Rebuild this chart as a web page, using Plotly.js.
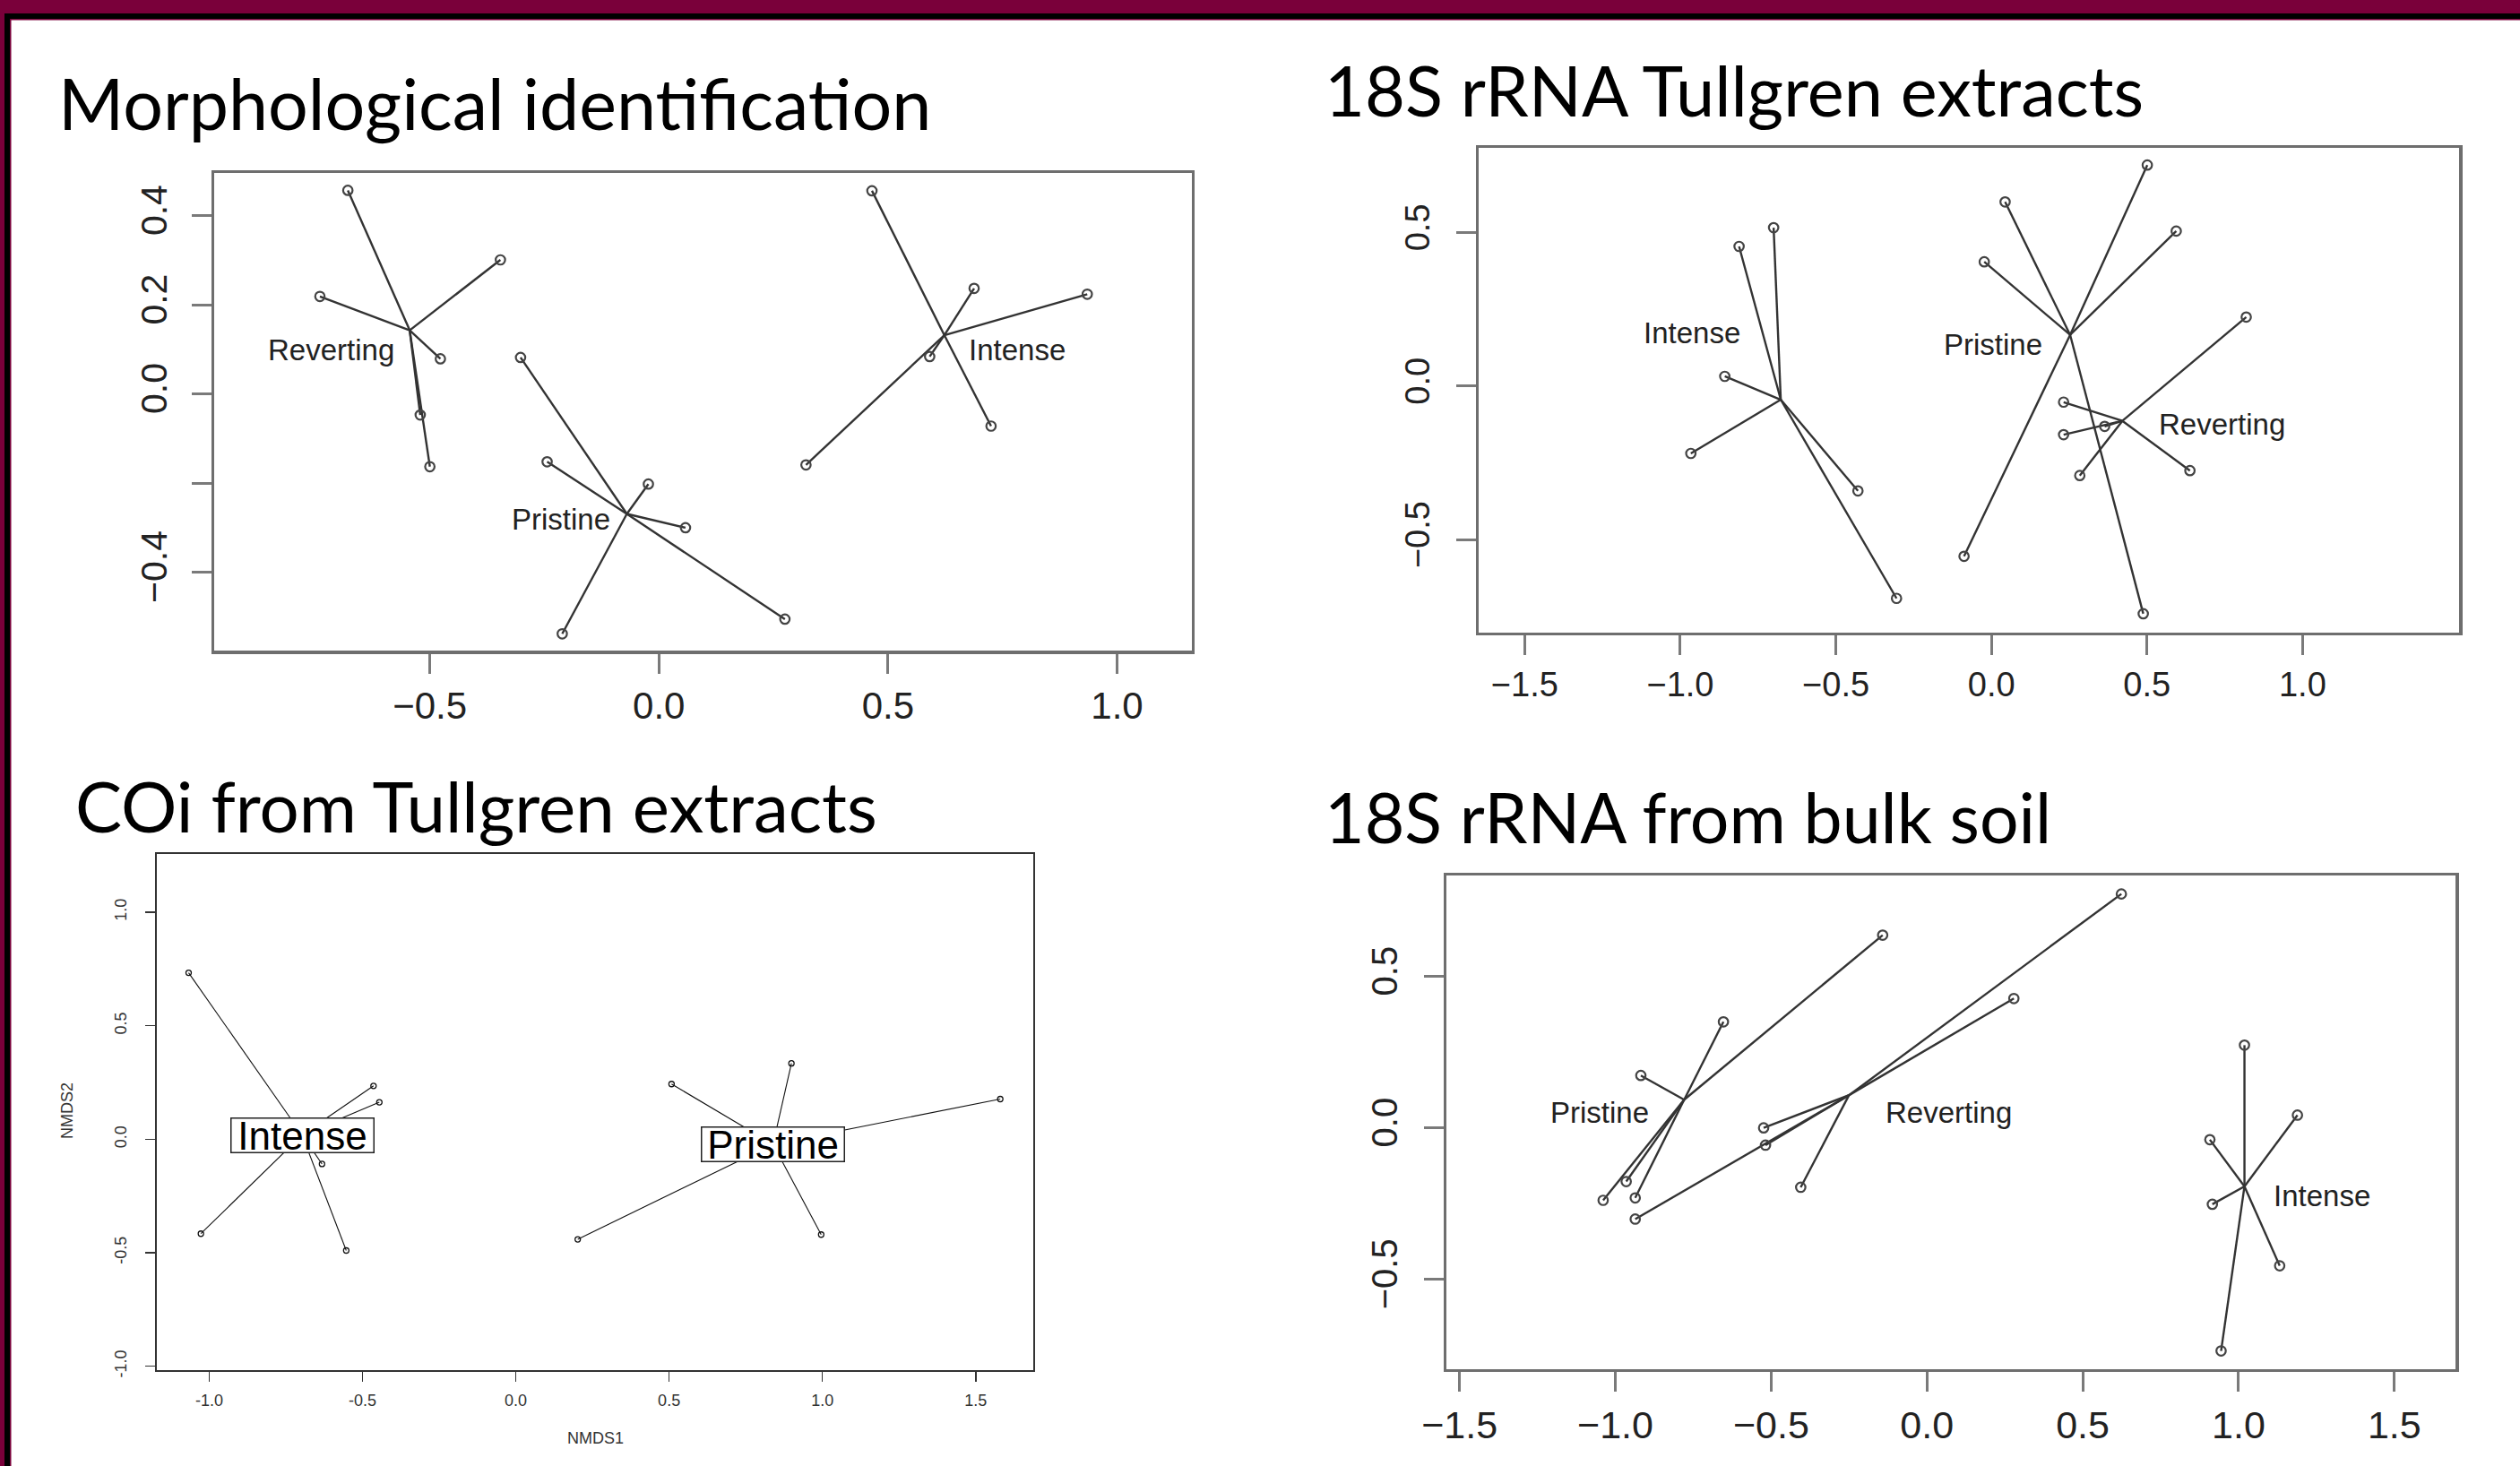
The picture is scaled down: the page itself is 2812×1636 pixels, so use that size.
<!DOCTYPE html>
<html>
<head>
<meta charset="utf-8">
<script src="https://cdn.plot.ly/plotly-3.0.1.min.js"></script>
<style>html,body{margin:0;padding:0;background:#fff;}#chart{width:2812px;height:1636px;}</style>
</head>
<body>
<div id="chart"></div>
<script>
// ---------- DATA ----------
// Panel 1: Morphological identification
const morphRevX = [-0.679, -0.346, -0.740, -0.477, -0.521, -0.500];
const morphRevY = [0.457, 0.301, 0.219, 0.079, -0.047, -0.163];
const morphIntX = [0.465, 0.688, 0.935, 0.591, 0.725, 0.321];
const morphIntY = [0.456, 0.237, 0.224, 0.084, -0.072, -0.159];
const morphPriX = [-0.302, -0.244, -0.023, 0.058, 0.275, -0.211];
const morphPriY = [0.082, -0.152, -0.202, -0.300, -0.505, -0.538];
const morphCentX = [-0.544, 0.623, -0.070];   // Reverting, Intense, Pristine
const morphCentY = [0.143, 0.132, -0.269];

// Panel 2: 18S rRNA Tullgren extracts
const tullIntX = [-0.700, -0.811, -0.857, -0.966, -0.429, -0.305];
const tullIntY = [0.516, 0.455, 0.032, -0.219, -0.341, -0.691];
const tullPriX = [0.501, 0.044, 0.594, -0.023, -0.088, 0.488];
const tullPriY = [0.720, 0.600, 0.505, 0.405, -0.554, -0.741];
const tullRevX = [0.819, 0.232, 0.232, 0.364, 0.284, 0.638];
const tullRevY = [0.225, -0.052, -0.158, -0.131, -0.291, -0.275];
const tullCentX = [-0.677, 0.253, 0.421];     // Intense, Pristine, Reverting
const tullCentY = [-0.044, 0.167, -0.113];

// Panel 3: COi from Tullgren extracts
const coiIntX = [-1.067, -0.464, -0.445, -0.632, -1.027, -0.553];
const coiIntY = [0.733, 0.235, 0.163, -0.109, -0.416, -0.490];
const coiPriX = [0.508, 0.899, 1.580, 0.202, 0.996];
const coiPriY = [0.243, 0.334, 0.177, -0.441, -0.420];
const coiCentX = [-0.697, 0.839];             // Intense, Pristine
const coiCentY = [0.019, -0.022];

// Panel 4: 18S rRNA from bulk soil
const bulkPriX = [-0.142, -0.653, -0.918, -0.965, -0.936, -1.039];
const bulkPriY = [0.636, 0.350, 0.173, -0.177, -0.231, -0.239];
const bulkRevX = [0.624, 0.279, -0.524, -0.518, -0.405, -0.936];
const bulkRevY = [0.772, 0.427, 0.000, -0.057, -0.196, -0.301];
const bulkIntX = [1.019, 1.189, 0.908, 0.916, 1.132, 0.944];
const bulkIntY = [0.273, 0.042, -0.039, -0.252, -0.455, -0.736];
const bulkCentX = [-0.779, -0.250, 1.019];    // Pristine, Reverting, Intense
const bulkCentY = [0.093, 0.108, -0.193];

// Tick values / labels
const p1XTicks = [-0.5, 0, 0.5, 1.0];
const p1XText  = ["\u22120.5", "0.0", "0.5", "1.0"];
const p1YTicks = [-0.4, -0.2, 0, 0.2, 0.4];
const p1YText  = ["\u22120.4", "", "0.0", "0.2", "0.4"];
const p2XTicks = [-1.5, -1.0, -0.5, 0, 0.5, 1.0];
const p2XText  = ["\u22121.5", "\u22121.0", "\u22120.5", "0.0", "0.5", "1.0"];
const p2YTicks = [-0.5, 0, 0.5];
const p2YText  = ["\u22120.5", "0.0", "0.5"];
const p3XTicks = [-1.0, -0.5, 0, 0.5, 1.0, 1.5];
const p3XText  = ["-1.0", "-0.5", "0.0", "0.5", "1.0", "1.5"];
const p3YTicks = [-1.0, -0.5, 0, 0.5, 1.0];
const p3YText  = ["-1.0", "-0.5", "0.0", "0.5", "1.0"];
const p4XTicks = [-1.5, -1.0, -0.5, 0, 0.5, 1.0, 1.5];
const p4XText  = ["\u22121.5", "\u22121.0", "\u22120.5", "0.0", "0.5", "1.0", "1.5"];
const p4YTicks = [-0.5, 0, 0.5];
const p4YText  = ["\u22120.5", "0.0", "0.5"];

const titles = ["Morphological identification", "18S rRNA Tullgren extracts",
                "COi from Tullgren extracts", "18S rRNA from bulk soil"];

// ---------- BUILD ----------
const W = 2812, H = 1636;
const traces = [];
function spider(cx, cy, xs, ys, ax, style) {
  const lx = [], ly = [];
  for (let i = 0; i < xs.length; i++) { lx.push(cx, xs[i], null); ly.push(cy, ys[i], null); }
  traces.push({x: lx, y: ly, xaxis: 'x' + ax, yaxis: 'y' + ax, mode: 'lines', type: 'scatter',
    line: {color: style.lc, width: style.lw}, hoverinfo: 'skip'});
  traces.push({x: xs, y: ys, xaxis: 'x' + ax, yaxis: 'y' + ax, mode: 'markers', type: 'scatter',
    marker: {symbol: 'circle-open', size: style.ms, color: style.mc, line: {width: style.mw, color: style.mc}}, hoverinfo: 'skip'});
}
const sBig = {lc: '#333', lw: 2.4, ms: 10.5, mc: '#444', mw: 2.2};
const sSmall = {lc: '#111', lw: 1.1, ms: 6, mc: '#111', mw: 1.3};

spider(morphCentX[0], morphCentY[0], morphRevX, morphRevY, '', sBig);
spider(morphCentX[1], morphCentY[1], morphIntX, morphIntY, '', sBig);
spider(morphCentX[2], morphCentY[2], morphPriX, morphPriY, '', sBig);
spider(tullCentX[0], tullCentY[0], tullIntX, tullIntY, '2', sBig);
spider(tullCentX[1], tullCentY[1], tullPriX, tullPriY, '2', sBig);
spider(tullCentX[2], tullCentY[2], tullRevX, tullRevY, '2', sBig);
spider(coiCentX[0], coiCentY[0], coiIntX, coiIntY, '3', sSmall);
spider(coiCentX[1], coiCentY[1], coiPriX, coiPriY, '3', sSmall);
spider(bulkCentX[0], bulkCentY[0], bulkPriX, bulkPriY, '4', sBig);
spider(bulkCentX[1], bulkCentY[1], bulkRevX, bulkRevY, '4', sBig);
spider(bulkCentX[2], bulkCentY[2], bulkIntX, bulkIntY, '4', sBig);

const tickFont = 'Liberation Sans, Arial, sans-serif';
function axis(domain, range, tv, tt, anchor, o) {
  return {
    domain: domain, range: range, anchor: anchor, tickvals: tv, ticktext: tt,
    showgrid: false, zeroline: false, showline: true, mirror: true,
    linecolor: o.line, linewidth: o.lw, ticks: 'outside', ticklen: o.tl, tickwidth: o.tw,
    tickcolor: o.tc, tickangle: o.angle, ticklabelstandoff: o.standoff,
    tickfont: {family: tickFont, size: o.fs, color: o.fc}, fixedrange: true
  };
}
const oBigX = {line: '#6e6e6e', lw: 3.5, tl: 22, tw: 3, tc: '#7a7a7a', angle: 0, standoff: 0, fs: 42, fc: '#222'};
const oBigY = {line: '#6e6e6e', lw: 3.5, tl: 22, tw: 3, tc: '#7a7a7a', angle: -90, standoff: 12, fs: 41, fc: '#222'};
const oSmX = {line: '#333', lw: 2, tl: 11, tw: 1.5, tc: '#333', angle: 0, standoff: 6, fs: 18, fc: '#333'};
const oSmY = {line: '#333', lw: 2, tl: 11, tw: 1.5, tc: '#333', angle: -90, standoff: 14, fs: 18, fc: '#333'};

function px(x) { return x / W; }
function py(y) { return 1 - y / H; }

const layout = {
  width: W, height: H, margin: {l: 0, r: 0, t: 0, b: 0, pad: 0},
  paper_bgcolor: '#fff', plot_bgcolor: '#fff', showlegend: false,
  xaxis:  axis([px(239.4), px(1329.8)], [-0.970, 1.163], p1XTicks, p1XText, 'y', oBigX),
  yaxis:  axis([py(726.2), py(193)], [-0.576, 0.496], p1YTicks, p1YText, 'x', oBigY),
  xaxis2: axis([px(1650), px(2744)], [-1.648, 1.503], p2XTicks, p2XText, 'y2', Object.assign({}, oBigX, {fs: 38})),
  yaxis2: axis([py(705.8), py(165)], [-0.802, 0.776], p2YTicks, p2YText, 'x2', Object.assign({}, oBigY, {fs: 38, standoff: 14})),
  xaxis3: axis([px(174.9), px(1153.1)], [-1.171, 1.688], p3XTicks, p3XText, 'y3', oSmX),
  yaxis3: axis([py(1528.5), py(952.6)], [-1.015, 1.258], p3YTicks, p3YText, 'x3', oSmY),
  xaxis4: axis([px(1614), px(2740.3)], [-1.542, 1.697], p4XTicks, p4XText, 'y4', Object.assign({}, oBigX, {fs: 43})),
  yaxis4: axis([py(1527.5), py(977)], [-0.795, 0.833], p4YTicks, p4YText, 'x4', Object.assign({}, oBigY, {fs: 40, standoff: 14})),
  shapes: [],
  annotations: []
};

// slide frame
const maroon = '#7a003a';
function rect(x0, y0, x1, y1, c) {
  layout.shapes.push({type: 'rect', xref: 'paper', yref: 'paper', x0: px(x0), x1: px(x1), y0: py(y1), y1: py(y0),
    fillcolor: c, line: {width: 0}, layer: 'above'});
}
rect(0, 0, W, 15, maroon);
rect(0, 15, W, 21, '#000');
rect(11, 21, W, 22.5, maroon);
rect(0, 0, 5, H, maroon);
rect(5, 15, 11, H, '#000');
rect(11, 21, 12.5, H, maroon);

// titles
const titleFont = 'Lato, Carlito, "Liberation Sans", sans-serif';
const titlePos = [[63, 115, 79], [1476, 101, 77.5], [82, 899, 78], [1476, 911, 77]];
titles.forEach((t, i) => {
  layout.annotations.push({text: t, xref: 'paper', yref: 'paper', x: px(titlePos[i][0]), y: py(titlePos[i][1]),
    xanchor: 'left', yanchor: 'middle', showarrow: false, font: {family: titleFont, size: titlePos[i][2], color: '#000'}});
});

// group labels
const lblFont = {family: 'Liberation Sans, Arial, sans-serif', size: 33, color: '#222'};
function lbl(text, x, y, ax) {
  layout.annotations.push({text: text, xref: 'x' + ax, yref: 'y' + ax, x: x, y: y, showarrow: false,
    xanchor: 'center', yanchor: 'middle', font: lblFont});
}
lbl('Reverting', -0.716, 0.098, '');
lbl('Intense', 0.781, 0.098, '');
lbl('Pristine', -0.214, -0.282, '');
lbl('Intense', -0.963, 0.174, '2');
lbl('Pristine', 0.005, 0.135, '2');
lbl('Reverting', 0.741, -0.125, '2');
lbl('Pristine', -1.050, 0.051, '4');
lbl('Reverting', 0.070, 0.051, '4');
lbl('Intense', 1.269, -0.224, '4');

// boxed labels (panel 3) at group centroids
['Intense', 'Pristine'].forEach((t, i) => {
  layout.annotations.push({text: t, xref: 'x3', yref: 'y3', x: coiCentX[i], y: coiCentY[i], showarrow: false,
    xanchor: 'center', yanchor: 'middle', width: 158, height: 37, borderpad: 0,
    bgcolor: '#fff', bordercolor: '#222', borderwidth: 1.5,
    font: {family: 'Liberation Sans, Arial, sans-serif', size: 44, color: '#000'}});
});

// axis titles (panel 3)
layout.annotations.push({text: 'NMDS1', xref: 'paper', yref: 'paper', x: px(664), y: py(1605), showarrow: false,
  xanchor: 'center', yanchor: 'middle', font: {family: tickFont, size: 18, color: '#333'}});
layout.annotations.push({text: 'NMDS2', xref: 'paper', yref: 'paper', x: px(75), y: py(1240), showarrow: false,
  xanchor: 'center', yanchor: 'middle', textangle: -90, font: {family: tickFont, size: 18, color: '#333'}});

Plotly.newPlot('chart', traces, layout, {displayModeBar: false, staticPlot: true});
</script>
</body>
</html>
